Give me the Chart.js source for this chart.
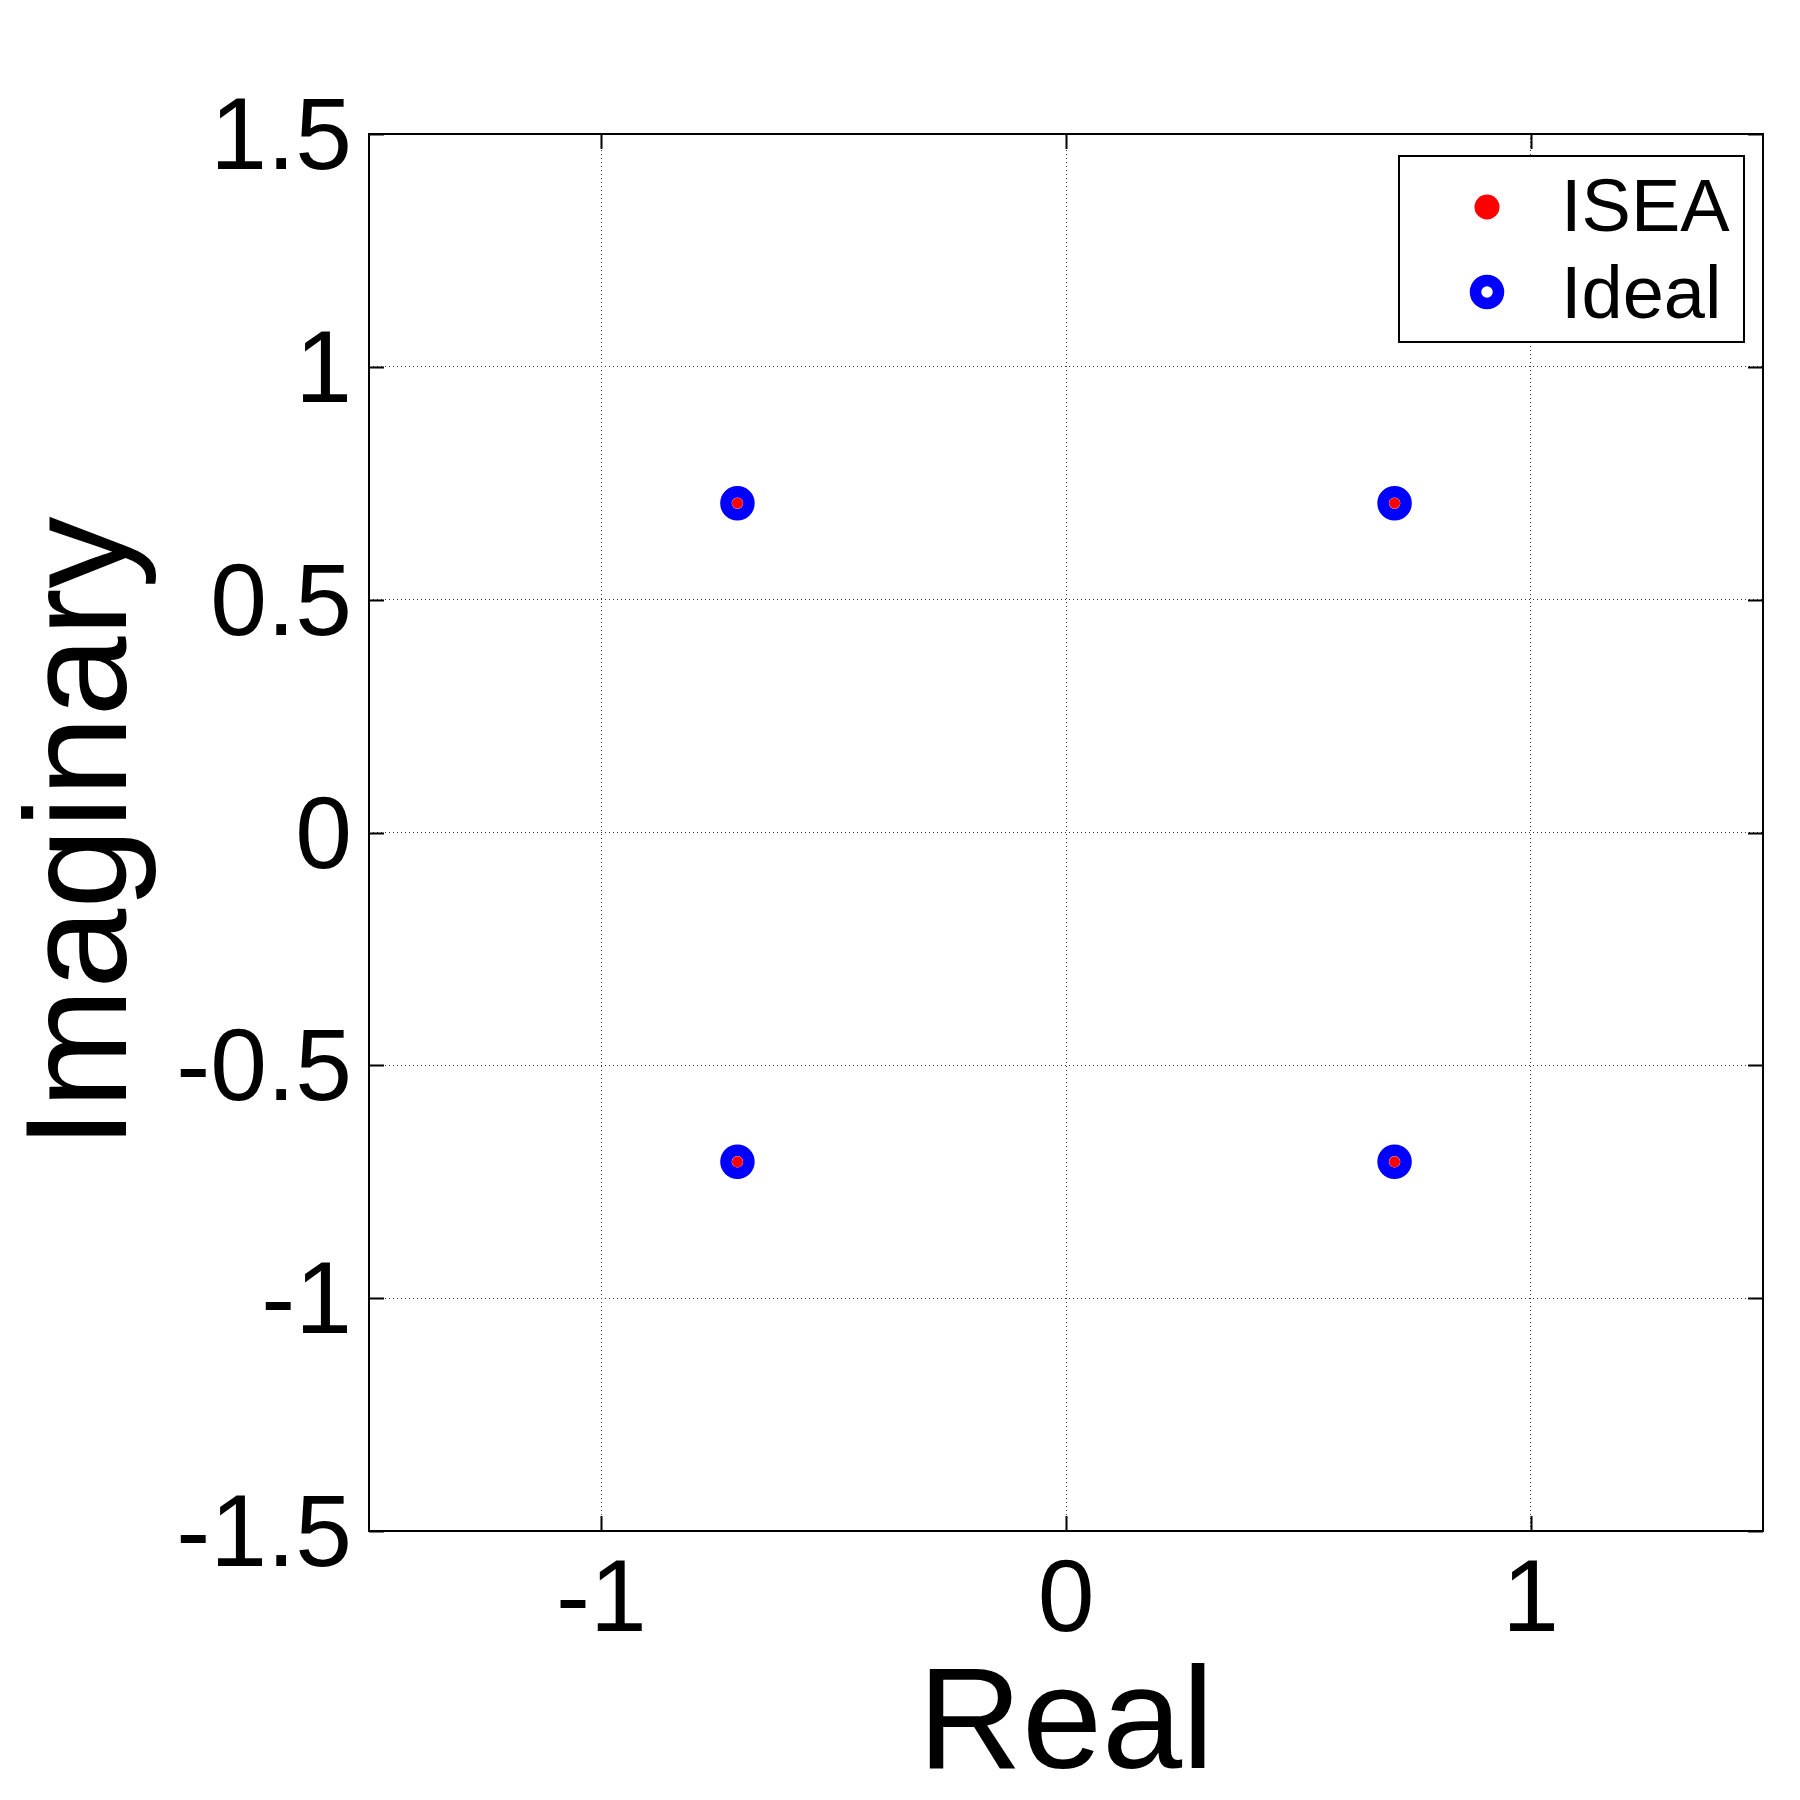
<!DOCTYPE html>
<html>
<head>
<meta charset="utf-8">
<script src="https://cdn.jsdelivr.net/npm/chart.js"></script>
<style>
  html, body { margin: 0; padding: 0; background: #fff; }
  #wrap { width: 1800px; height: 1800px; }
</style>
</head>
<body>
<div id="wrap"><canvas id="myChart" width="1800" height="1800"></canvas></div>
<script>
const seriesNames = ["ISEA", "Ideal"];
const iseaReal = [0.7071, -0.7071, -0.7071, 0.7071];
const iseaImag = [0.7071, 0.7071, -0.7071, -0.7071];
const idealReal = [0.7071, -0.7071, -0.7071, 0.7071];
const idealImag = [0.7071, 0.7071, -0.7071, -0.7071];
const xTicks = [-1, 0, 1];
const yTicks = [-1.5, -1, -0.5, 0, 0.5, 1, 1.5];
const yTickLabels = ["-1.5", "-1", "-0.5", "0", "0.5", "1", "1.5"];

const FONT = "'Liberation Sans', Arial, sans-serif";

function toPoints(xs, ys) {
  return xs.map((x, i) => ({ x: x, y: ys[i] }));
}

// box, inward ticks and legend like the matlab figure
const boxPlugin = {
  id: "boxPlugin",
  afterDraw(chart) {
    const { ctx, chartArea: a, scales } = chart;
    ctx.save();
    ctx.strokeStyle = "#000";
    ctx.lineWidth = 2;
    ctx.strokeRect(a.left, a.top, a.right - a.left, a.bottom - a.top);

    const tl = 15;
    ctx.beginPath();
    xTicks.forEach((v) => {
      const px = Math.round(scales.x.getPixelForValue(v)) + 0.5;
      ctx.moveTo(px, a.bottom); ctx.lineTo(px, a.bottom - tl);
      ctx.moveTo(px, a.top); ctx.lineTo(px, a.top + tl);
    });
    yTicks.forEach((v) => {
      const py = Math.round(scales.y.getPixelForValue(v)) + 0.5;
      ctx.moveTo(a.left, py); ctx.lineTo(a.left + tl, py);
      ctx.moveTo(a.right, py); ctx.lineTo(a.right - tl, py);
    });
    ctx.lineWidth = 2;
    ctx.stroke();

    // legend
    const lx = a.right - 364, ly = a.top + 22, lw = 345, lh = 186;
    ctx.fillStyle = "#fff";
    ctx.fillRect(lx, ly, lw, lh);
    ctx.lineWidth = 2;
    ctx.strokeStyle = "#000";
    ctx.strokeRect(lx, ly, lw, lh);

    const mx = lx + 88;
    const ds = chart.data.datasets;
    // ISEA marker
    ctx.beginPath();
    ctx.arc(mx, ly + 51, 12.5, 0, Math.PI * 2);
    ctx.fillStyle = ds[0].backgroundColor;
    ctx.fill();
    // Ideal marker
    ctx.beginPath();
    ctx.arc(mx, ly + 136, 11.5, 0, Math.PI * 2);
    ctx.fillStyle = ds[1].backgroundColor;
    ctx.fill();
    ctx.lineWidth = 11.5;
    ctx.strokeStyle = ds[1].borderColor;
    ctx.stroke();

    ctx.fillStyle = "#000";
    ctx.font = "74px " + FONT;
    ctx.textAlign = "left";
    ctx.textBaseline = "alphabetic";
    ctx.fillText(seriesNames[0], lx + 162, ly + 75);
    ctx.fillText(seriesNames[1], lx + 162, ly + 162);
    ctx.restore();
  },
};

const ctx = document.getElementById("myChart").getContext("2d");
new Chart(ctx, {
  type: "scatter",
  data: {
    datasets: [
      {
        label: seriesNames[0],
        data: toPoints(iseaReal, iseaImag),
        backgroundColor: "#ff0000",
        borderWidth: 0,
        pointRadius: 5.5,
        pointHoverRadius: 5.5,
      },
      {
        label: seriesNames[1],
        data: toPoints(idealReal, idealImag),
        backgroundColor: "#ffffff",
        borderColor: "#0000ff",
        borderWidth: 11.5,
        pointRadius: 11.5,
        pointHoverRadius: 11.5,
      },
    ],
  },
  options: {
    responsive: false,
    animation: false,
    layout: { padding: { top: 134, right: 37, left: 0, bottom: 0 } },
    plugins: {
      legend: { display: false },
      tooltip: { enabled: false },
    },
    scales: {
      x: {
        type: "linear",
        min: -1.5,
        max: 1.5,
        afterBuildTicks: (s) => { s.ticks = xTicks.map((v) => ({ value: v })); },
        afterFit: (s) => { s.height = 269; },
        grid: { color: "#333", lineWidth: 1, drawTicks: false },
        border: { display: false, dash: [1, 3] },
        ticks: {
          padding: 11,
          color: "#000",
          font: { family: FONT, size: 102 },
          maxRotation: 0,
          callback: (v) => String(v),
        },
        title: {
          display: true,
          text: "Real",
          color: "#000",
          font: { family: FONT, size: 144, lineHeight: 1.0 },
          padding: { top: 0, bottom: 0 },
        },
      },
      y: {
        type: "linear",
        min: -1.5,
        max: 1.5,
        afterBuildTicks: (s) => { s.ticks = yTicks.map((v) => ({ value: v })); },
        afterFit: (s) => { s.width = 369; },
        grid: { color: "#333", lineWidth: 1, drawTicks: false },
        border: { display: false, dash: [1, 3] },
        ticks: {
          padding: 17,
          labelOffset: 7,
          color: "#000",
          font: { family: FONT, size: 102 },
          callback: (v, i) => yTickLabels[i],
        },
        title: {
          display: true,
          text: "Imaginary",
          color: "#000",
          font: { family: FONT, size: 144, lineHeight: 1.2 },
          padding: { top: 0, bottom: 0 },
        },
      },
    },
  },
  plugins: [boxPlugin],
});
</script>
</body>
</html>
